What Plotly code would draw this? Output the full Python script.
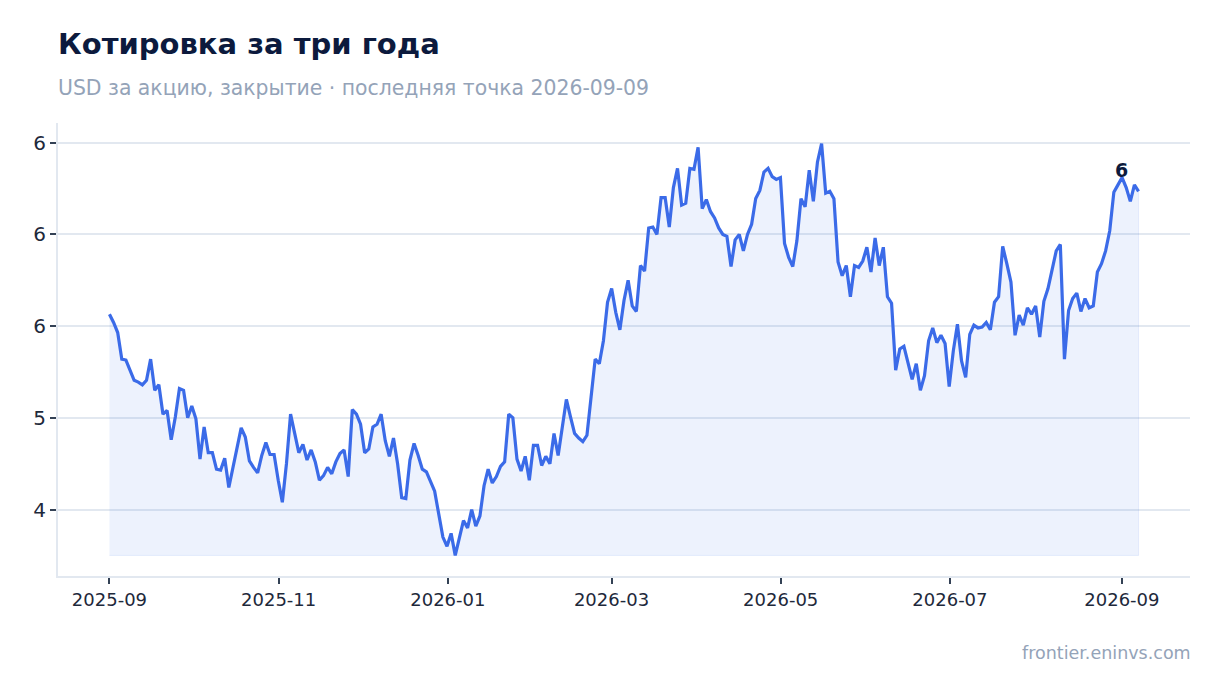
import pandas as pd
import plotly.graph_objects as go

# closing prices (one value per trading session)
close = [
    6.13, 6.04, 5.93, 5.64, 5.63, 5.53, 5.41, 5.39, 5.36, 5.41,
    5.64, 5.30, 5.36, 5.04, 5.08, 4.76, 5.01, 5.32, 5.30, 5.00,
    5.13, 4.99, 4.55, 4.90, 4.62, 4.62, 4.44, 4.43, 4.56, 4.24,
    4.46, 4.64, 4.89, 4.79, 4.53, 4.46, 4.40, 4.59, 4.73, 4.60,
    4.60, 4.32, 4.08, 4.50, 5.04, 4.83, 4.62, 4.71, 4.54, 4.65,
    4.52, 4.32, 4.37, 4.46, 4.39, 4.52, 4.61, 4.65, 4.36, 5.09,
    5.04, 4.93,
    4.62, 4.66, 4.90, 4.93, 5.04, 4.75, 4.58, 4.78, 4.50, 4.13,
    4.12, 4.54, 4.72, 4.59, 4.44, 4.41, 4.30, 4.20, 3.95, 3.70,
    3.60, 3.74, 3.50, 3.68, 3.88, 3.80, 4.00, 3.82, 3.93, 4.26,
    4.44, 4.29, 4.36, 4.47, 4.52, 5.04, 5.00, 4.55, 4.42, 4.58,
    4.32, 4.70, 4.70, 4.48, 4.58, 4.50, 4.83, 4.59, 4.90, 5.20,
    5.01, 4.83, 4.78, 4.74, 4.81, 5.22, 5.64, 5.59,
    5.84, 6.26, 6.41, 6.15, 5.96, 6.28, 6.50, 6.22, 6.16, 6.66,
    6.60, 7.07, 7.08, 7.00, 7.40, 7.40, 7.08, 7.51, 7.72, 7.32,
    7.34, 7.72, 7.71, 7.95, 7.28, 7.38, 7.25, 7.18, 7.07, 7.00,
    6.98, 6.65, 6.94, 7.00, 6.82, 7.00, 7.11, 7.39, 7.48, 7.68,
    7.72, 7.63, 7.60, 7.62, 6.90, 6.75, 6.65, 6.93, 7.39, 7.30,
    7.70, 7.36, 7.79, 7.99, 7.45, 7.47, 7.39, 6.70, 6.55, 6.66,
    6.32, 6.66, 6.64, 6.71,
    6.86, 6.59, 6.96, 6.66, 6.86, 6.32, 6.25, 5.52, 5.75, 5.78,
    5.61, 5.42, 5.59, 5.30, 5.46, 5.84, 5.98, 5.82, 5.90, 5.81,
    5.34, 5.73, 6.02, 5.62, 5.44, 5.91, 6.01, 5.98, 5.99, 6.04,
    5.96, 6.26, 6.32, 6.87, 6.68, 6.48, 5.90, 6.12, 6.01, 6.20,
    6.13, 6.22, 5.88, 6.27, 6.41, 6.61, 6.82, 6.89, 5.64, 6.17,
    6.30, 6.36, 6.16, 6.30, 6.20, 6.22, 6.59, 6.68, 6.82, 7.04,
    7.46, 7.54, 7.62, 7.51, 7.36, 7.54, 7.47,
]
first_day = "2025-09-01"
last_day = "2026-09-07"

y_tick_vals = [4, 5, 6, 7, 8]
y_tick_text = ["4", "5", "6", "6", "6"]
peak_label = "6"

title = "Котировка за три года"
subtitle = "USD за акцию, закрытие · последняя точка 2026-09-09"
source = "frontier.eninvs.com"

LINE = "#3b6be8"
INK = "#0c1a3d"
MUTED = "#94a3b8"
GRID = "#e2e8f0"

dates = pd.date_range(first_day, last_day, periods=len(close))
base = min(close)

fig = go.Figure()
# shaded area down to the lowest close
fig.add_trace(go.Scatter(
    x=list(dates) + list(dates[::-1]),
    y=close + [base] * len(close),
    fill="toself",
    fillcolor="rgba(59,107,232,0.09)",
    line=dict(color="rgba(59,107,232,0.10)", width=1),
    hoverinfo="skip",
    showlegend=False,
))
fig.add_trace(go.Scatter(
    x=dates, y=close, mode="lines",
    line=dict(color=LINE, width=3.2),
    showlegend=False,
))

# label over the recent high
tail = 10
i_peak = len(close) - tail + close[-tail:].index(max(close[-tail:]))
fig.add_annotation(
    x=dates[i_peak], y=close[i_peak], text="<b>" + peak_label + "</b>",
    showarrow=False, yanchor="bottom", yshift=-5, xshift=-1,
    font=dict(family="DejaVu Sans", size=19, color=INK),
)

span = dates[-1] - dates[0]
y_span = max(close) - min(close)

fig.add_annotation(
    x=0, y=1.077, xref="paper", yref="paper", xanchor="left", yanchor="middle",
    text=subtitle, showarrow=False, xshift=-2,
    font=dict(family="DejaVu Sans", size=20.4, color=MUTED),
)
fig.add_annotation(
    x=1, y=-0.168, xref="paper", yref="paper", xanchor="right", yanchor="middle",
    text=source, showarrow=False, xshift=3, yshift=-1,
    font=dict(family="DejaVu Sans", size=17.5, color=MUTED),
)

fig.update_layout(
    width=1220, height=693,
    margin=dict(l=50, r=38, t=115, b=125),
    paper_bgcolor="white", plot_bgcolor="white",
    font=dict(family="DejaVu Sans", color="#1e293b"),
    title=dict(
        text="<b>" + title + "</b>", x=50 / 1220, xref="container", xanchor="left",
        y=1 - 36 / 693, yanchor="middle",
        font=dict(family="DejaVu Sans", size=29, color=INK),
    ),
)
fig.update_xaxes(
    range=[dates[0] - span * 0.05, dates[-1] + span * 0.05],
    tickformat="%Y-%m", dtick="M2", tick0=first_day,
    showgrid=False, showline=True, linecolor=GRID, linewidth=2,
    ticks="outside", ticklen=6, tickcolor="#334155", tickwidth=2,
    tickfont=dict(size=18, color="#1e293b"),
)
fig.update_yaxes(
    range=[min(close) - y_span * 0.05, max(close) + y_span * 0.05],
    tickvals=y_tick_vals, ticktext=y_tick_text,
    showgrid=True, gridcolor=GRID, gridwidth=1.5, zeroline=False,
    showline=True, linecolor=GRID, linewidth=2,
    ticks="outside", ticklen=6, tickcolor="#334155", tickwidth=2,
    tickfont=dict(size=20, color="#1e293b"),
)

fig.write_html("out.html")
